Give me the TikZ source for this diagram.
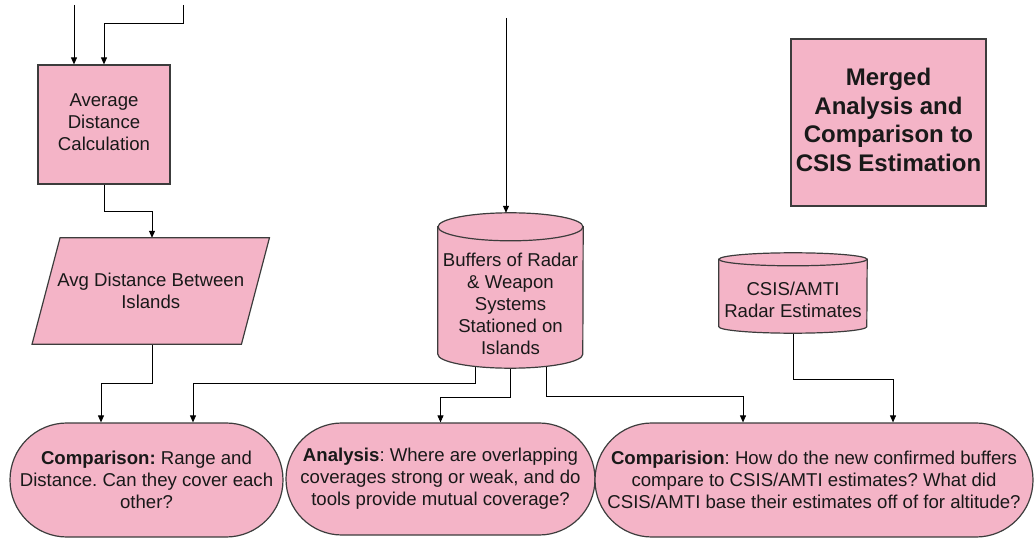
\documentclass[tikz,border=0pt]{standalone}
\usepackage{fontspec}
\setmainfont{Liberation Sans}
\usetikzlibrary{arrows.meta,calc}
\definecolor{pinkfill}{RGB}{244,180,199}
\definecolor{edgegray}{RGB}{60,60,60}
\definecolor{txt}{RGB}{25,25,25}
\pgfdeclarelayer{conn}
\pgfdeclarelayer{shp}
\pgfsetlayers{conn,shp,main}
\frenchspacing
\begin{document}
\begin{tikzpicture}[x=1pt,y=-1pt,
  box/.style={draw=edgegray,fill=pinkfill,line width=1.2pt},
  lbl/.style={text=txt,font=\fontsize{18.6}{22}\selectfont,align=center,inner sep=0pt},
  arr/.style={draw=black,line width=0.9pt,-{Triangle[length=7pt,width=6pt]}}]
\useasboundingbox (0,0) rectangle (1034,540);

% --- nodes
\node[box,lbl,text depth=4pt,minimum width=132pt,minimum height=119pt] (adc) at (104,124.5) {Average\\Distance\\Calculation};
\node[lbl,minimum width=209pt,minimum height=106pt] (avg) at (150.75,291) {Avg Distance Between\\Islands};
\node[inner sep=0pt,minimum width=145pt,minimum height=155pt] (buf) at (510.5,290.5) {};
\node[lbl] (buftext) at (510.5,304) {Buffers of Radar\\\& Weapon\\Systems\\Stationed on\\Islands};
\node[inner sep=0pt,minimum width=148pt,minimum height=80pt] (csis) at (793,293) {};
\node[lbl] (csistext) at (793,299.5) {CSIS/AMTI\\Radar Estimates};
\node[box,text=txt,align=center,inner sep=0pt,text depth=5pt,font=\bfseries\fontsize{24}{28.5}\selectfont,minimum width=195pt,minimum height=167pt] (mrg) at (888.5,122.5) {Merged\\Analysis and\\Comparison to\\CSIS Estimation};
\node[box,lbl,rounded corners=56.9pt,minimum width=273pt,minimum height=114pt] (c1) at (146.5,480) {\textbf{Comparison:} Range and\\Distance. Can they cover each\\other?};
\node[box,lbl,rounded corners=55.9pt,minimum width=309pt,minimum height=112pt] (c2) at (440.5,479) {\textbf{Analysis}: Where are overlapping\\coverages strong or weak, and do\\tools provide mutual coverage?};
\node[box,lbl,rounded corners=56.9pt,minimum width=438pt,minimum height=114pt] (c3) at (814,480) {\textbf{Comparision}: How do the new confirmed buffers\\compare to CSIS/AMTI estimates? What did\\CSIS/AMTI base their estimates off of for altitude?};

% --- shapes drawn behind text
\begin{pgfonlayer}{shp}
\draw[box] ($(avg.north west)+(14,0)$) -- ($(avg.north east)+(14,0)$) -- ($(avg.south east)+(-14,0)$) -- ($(avg.south west)+(-14,0)$) -- cycle;
\draw[box] ($(buf.north west)+(0,14)$) -- ($(buf.south west)+(0,-14)$) arc[start angle=180,end angle=0,x radius=72.5,y radius=14] -- ($(buf.north east)+(0,14)$) -- cycle;
\draw[box] ($(buf.north)+(0,14)$) ellipse[x radius=72.5,y radius=14];
\draw[box] ($(csis.north west)+(0,6.5)$) -- ($(csis.south west)+(0,-6.5)$) arc[start angle=180,end angle=0,x radius=74,y radius=6.5] -- ($(csis.north east)+(0,6.5)$) -- cycle;
\draw[box] ($(csis.north)+(0,6.5)$) ellipse[x radius=74,y radius=6.5];
\end{pgfonlayer}

% --- connectors
\begin{pgfonlayer}{conn}
\coordinate (s1) at (74,5);
\coordinate (s2) at (183,5);
\coordinate (s3) at (506,18);
\draw[arr] (s1) -- (s1 |- adc.north);
\draw[arr] (s2) -- ++(0,18) -| (adc.north);
\draw[arr] (s3) -- (s3 |- buf.north);
\draw[arr] (adc.south) -- ++(0,27) -| ([xshift=1.25pt]avg.north);
\draw[arr] ([xshift=1.25pt]avg.south) -- ++(0,39) -| ([xshift=-45.5pt]c1.north);
\draw[arr] ([xshift=-35.5pt]buf.center) -- ([xshift=-35.5pt,yshift=-15pt]buf.south) -| ([xshift=46.5pt]c1.north);
\draw[arr] (buf.center) -- ([yshift=-29pt]buf.south) -| (c2.north);
\draw[arr] ([xshift=35.5pt]buf.center) -- ([xshift=35.5pt,yshift=-28pt]buf.south) -| ([xshift=-71pt]c3.north);
\draw[arr] (csis.center) -- ([yshift=-46pt]csis.south) -| ([xshift=79pt]c3.north);
\end{pgfonlayer}
\end{tikzpicture}
\end{document}
